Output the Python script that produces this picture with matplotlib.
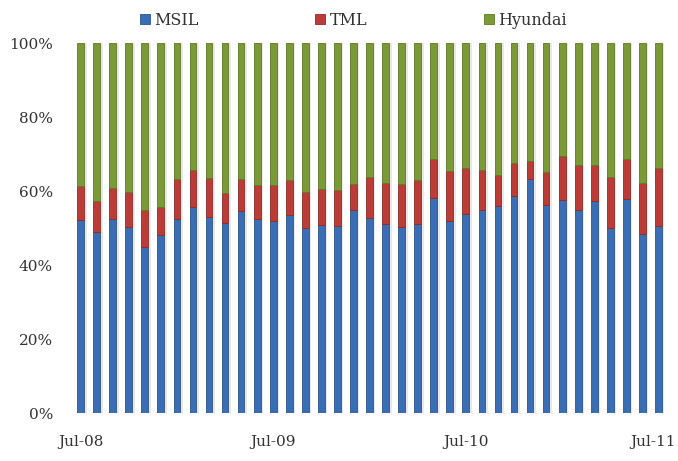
import numpy as np
import matplotlib.pyplot as plt
import matplotlib.transforms as mtransforms
from matplotlib.ticker import PercentFormatter

months = ["Jul-08","Aug-08","Sep-08","Oct-08","Nov-08","Dec-08","Jan-09","Feb-09","Mar-09",
          "Apr-09","May-09","Jun-09","Jul-09","Aug-09","Sep-09","Oct-09","Nov-09","Dec-09",
          "Jan-10","Feb-10","Mar-10","Apr-10","May-10","Jun-10","Jul-10","Aug-10","Sep-10",
          "Oct-10","Nov-10","Dec-10","Jan-11","Feb-11","Mar-11","Apr-11","May-11","Jun-11","Jul-11"]

msil = [52.3,48.9,52.4,50.4,44.9,48.1,52.4,55.6,52.9,51.3,54.6,52.5,52.0,53.5,50.1,50.8,50.6,54.9,
        52.6,51.0,50.2,51.1,58.0,51.8,53.7,54.8,55.9,58.7,63.2,56.1,57.6,54.9,57.2,50.1,57.9,48.3,50.6]
msil_tml = [61.4,57.4,60.9,59.8,54.8,55.7,63.2,65.7,63.4,59.4,63.2,61.6,61.6,63.1,59.7,60.6,60.4,61.9,
            63.8,62.1,61.8,62.9,68.6,65.3,66.2,65.8,64.4,67.5,68.1,65.2,69.5,67.0,67.1,63.8,68.7,62.2,66.2]
tml = [b - a for a, b in zip(msil, msil_tml)]
hyundai = [100 - b for b in msil_tml]

x = np.arange(len(months))
w = 0.42

fig = plt.figure(figsize=(6.78,4.61), dpi=100)
ax = fig.add_axes([0.107,0.104,0.876,0.8026])
font = 'DejaVu Serif'

# soft shadow behind each bar
ax.bar(x+0.1, [100]*len(x), w+0.12, color='#d9d9d9', alpha=0.6, zorder=1)
ax.bar(x, msil, w, color='#3a6db3', edgecolor='#2b5490', lw=0.6, label='MSIL', zorder=2)
ax.bar(x, tml, w, bottom=msil, color='#bb3b37', edgecolor='#8f2a27', lw=0.6, label='TML', zorder=2)
ax.bar(x, hyundai, w, bottom=msil_tml, color='#7b9a37', edgecolor='#5e7a27', lw=0.6, label='Hyundai', zorder=2)

ax.set_xlim(-0.5, len(x)-0.5)
ax.set_ylim(0, 100)
ax.set_yticks(np.arange(0,101,20))
ax.yaxis.set_major_formatter(PercentFormatter(decimals=0))
ax.set_xticks([0,12,24,36])
ax.set_xticklabels([months[0],months[12],months[24],months[36]])
for s in ax.spines.values():
    s.set_visible(False)
ax.tick_params(length=0, labelsize=11, colors='#333333', pad=14)
ax.tick_params(axis='x', pad=16)
for t in ax.get_xticklabels() + ax.get_yticklabels():
    t.set_fontfamily(font)
# keep the last month label inside the figure
last = ax.get_xticklabels()[-1]
last.set_transform(last.get_transform() + mtransforms.ScaledTranslation(-0.05, 0, fig.dpi_scale_trans))

leg = ax.legend(loc='lower center', bbox_to_anchor=(0.473,1.0), ncol=3, frameon=False,
                handlelength=0.6, handleheight=0.6, handletextpad=0.3, columnspacing=7.3,
                prop={'family':font,'size':11.5})
for t in leg.get_texts():
    t.set_color('#333333')

plt.savefig("out.png", dpi=100)
